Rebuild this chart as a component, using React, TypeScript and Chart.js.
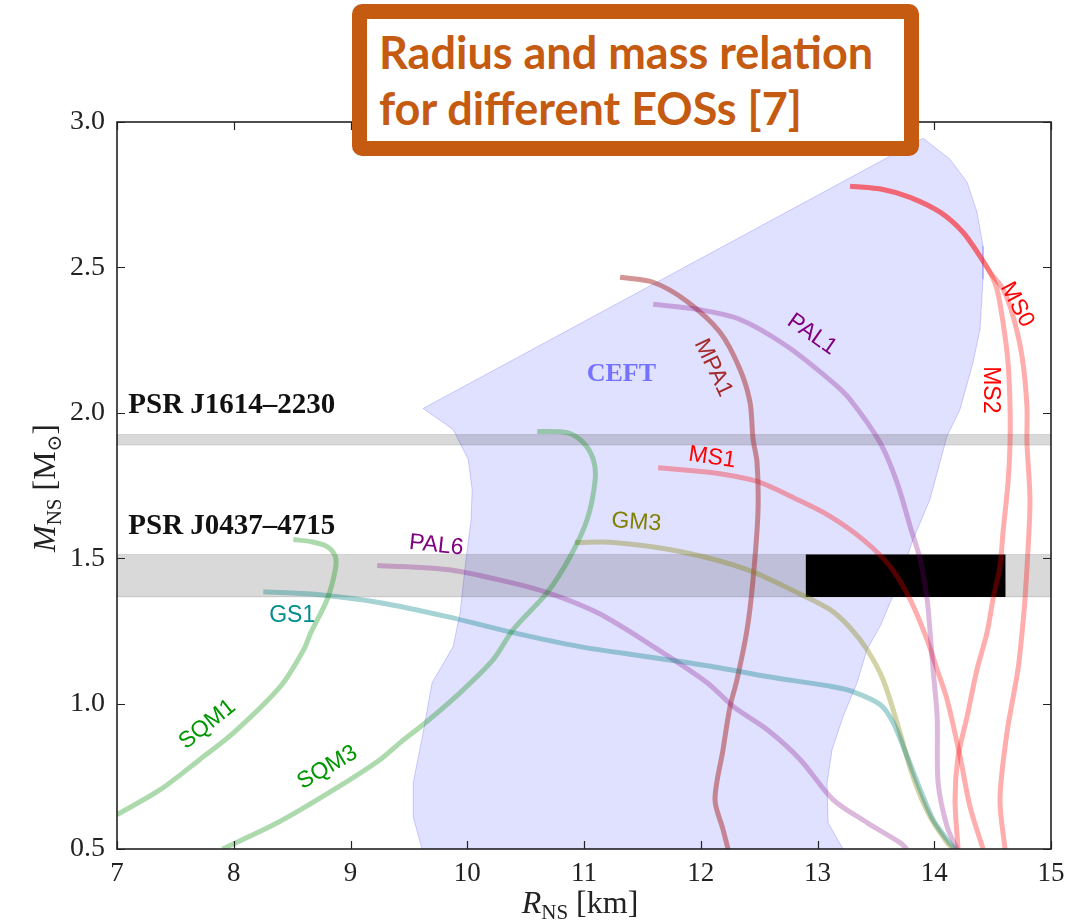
import React, { useEffect, useRef } from 'react';
import { Chart, registerables } from 'chart.js';

Chart.register(...registerables);

// ---------- axis ticks ----------
const xTicks = [7, 8, 9, 10, 11, 12, 13, 14, 15];
const yTicks = [0.5, 1.0, 1.5, 2.0, 2.5, 3.0];

// ---------- CEFT band (closed polygon) ----------
const ceftR = [9.614, 9.597, 9.537, 9.537, 9.622, 9.699, 9.879, 9.939, 9.982, 10.033, 10.042, 10.008, 9.879, 9.622,
  13.905, 14.135, 14.281, 14.366, 14.418, 14.418, 14.392, 14.332, 14.221, 14.109, 13.963, 13.818, 13.681, 13.535,
  13.424, 13.339, 13.219, 13.125, 13.082, 13.091, 13.219, 9.614];
const ceftM = [0.5, 0.522, 0.611, 0.728, 0.9, 1.072, 1.196, 1.313, 1.471, 1.633, 1.736, 1.84, 1.943, 2.015,
  2.944, 2.872, 2.793, 2.69, 2.573, 2.459, 2.287, 2.173, 2.012, 1.919, 1.702, 1.564, 1.403, 1.265,
  1.186, 1.072, 0.955, 0.842, 0.728, 0.59, 0.5, 0.5];

// ---------- pulsar mass bands ----------
const j1614M = [1.889, 1.925];
const j0437M = [1.367, 1.513];
const bandR = [7, 15];
const nicerR = [12.9, 14.61];

// ---------- EOS curves ----------
const sqm1R = [7.0, 7.37, 7.71, 8.0, 8.4, 8.6, 8.66, 8.8, 8.87, 8.87, 8.8, 8.66, 8.51];
const sqm1M = [0.618, 0.704, 0.808, 0.9, 1.059, 1.186, 1.244, 1.358, 1.461, 1.506, 1.54, 1.557, 1.564];

const sqm3R = [7.903, 8.374, 8.854, 9.256, 9.426, 9.623, 9.94, 10.222, 10.394, 10.685, 10.882, 11.027, 11.096, 11.079, 10.993, 10.856, 10.599];
const sqm3M = [0.5, 0.59, 0.703, 0.808, 0.866, 0.928, 1.038, 1.151, 1.255, 1.382, 1.506, 1.633, 1.771, 1.84, 1.898, 1.932, 1.936];

const gs1R = [8.253, 8.715, 9.254, 9.828, 10.393, 10.966, 11.54, 12.105, 12.568, 13.133, 13.304, 13.536, 13.648, 13.768, 13.879, 13.99, 14.11, 14.178];
const gs1M = [1.385, 1.375, 1.347, 1.299, 1.244, 1.196, 1.161, 1.127, 1.093, 1.058, 1.041, 0.997, 0.935, 0.818, 0.705, 0.601, 0.532, 0.5];

const gm3R = [10.924, 11.25, 11.823, 12.397, 12.825, 13.108, 13.279, 13.424, 13.561, 13.681, 13.818, 13.963, 14.11, 14.161];
const gm3M = [1.554, 1.554, 1.523, 1.461, 1.382, 1.323, 1.261, 1.186, 1.083, 0.935, 0.749, 0.612, 0.522, 0.5];

const pal6R = [9.229, 9.828, 10.256, 10.685, 11.113, 11.567, 12.055, 12.278, 12.568, 12.851, 13.133, 13.424, 13.707, 13.767];
const pal6M = [1.475, 1.461, 1.427, 1.382, 1.313, 1.203, 1.072, 0.99, 0.911, 0.808, 0.67, 0.591, 0.522, 0.5];

const pal1R = [11.592, 11.969, 12.337, 12.739, 13.133, 13.279, 13.536, 13.681, 13.793, 13.879, 13.939, 13.965, 13.99, 14.025, 14.033, 14.11, 14.195];
const pal1M = [2.373, 2.356, 2.321, 2.229, 2.104, 2.046, 1.898, 1.761, 1.61, 1.496, 1.358, 1.244, 1.117, 0.955, 0.728, 0.577, 0.5];

const mpa1R = [11.309, 11.592, 11.883, 12.165, 12.336, 12.422, 12.448, 12.482, 12.49, 12.448, 12.397, 12.311, 12.251, 12.191, 12.122, 12.191, 12.234];
const mpa1M = [2.466, 2.449, 2.383, 2.277, 2.15, 2.036, 1.909, 1.83, 1.658, 1.427, 1.255, 1.083, 0.99, 0.842, 0.67, 0.567, 0.5];

const ms1R = [11.635, 12.105, 12.482, 12.825, 13.108, 13.39, 13.622, 13.793, 13.938, 14.024, 14.11, 14.221, 14.306, 14.418];
const ms1M = [1.811, 1.794, 1.764, 1.702, 1.644, 1.564, 1.472, 1.358, 1.22, 1.117, 1.014, 0.818, 0.646, 0.5];

const ms0R = [13.279, 13.561, 13.793, 14.05, 14.246, 14.392, 14.478, 14.589, 14.675, 14.752, 14.794, 14.794, 14.82, 14.803, 14.777, 14.752, 14.717, 14.623, 14.563, 14.606];
const ms0M = [2.779, 2.768, 2.741, 2.69, 2.621, 2.538, 2.483, 2.425, 2.332, 2.194, 2.022, 1.898, 1.702, 1.53, 1.358, 1.244, 1.117, 0.9, 0.67, 0.5];

const ms2R = [13.279, 13.561, 13.793, 14.05, 14.246, 14.392, 14.478, 14.538, 14.589, 14.632, 14.649, 14.649, 14.632, 14.589, 14.563, 14.503, 14.452, 14.366, 14.281, 14.204, 14.178, 14.204];
const ms2M = [2.779, 2.768, 2.741, 2.69, 2.621, 2.538, 2.483, 2.424, 2.311, 2.173, 2.022, 1.898, 1.761, 1.589, 1.472, 1.358, 1.244, 1.117, 0.955, 0.818, 0.67, 0.5];

// ---------- text annotations ----------
const curveLabels = [
  { text: 'CEFT', r: 11.32, m: 2.131, rot: 0, color: 'rgb(115,115,255)', font: 'bold 26px "Liberation Serif", "DejaVu Serif", serif' },
  { text: 'MPA1', r: 12.106, m: 2.155, rot: 64.6, color: 'rgb(165,42,42)', font: '23px "Liberation Sans", Arial, sans-serif' },
  { text: 'PAL1', r: 12.953, m: 2.269, rot: 35, color: 'rgb(128,0,128)', font: '23px "Liberation Sans", Arial, sans-serif' },
  { text: 'MS1', r: 12.097, m: 1.846, rot: 8, color: 'rgb(255,0,0)', font: '23px "Liberation Sans", Arial, sans-serif' },
  { text: 'MS0', r: 14.708, m: 2.372, rot: 62, color: 'rgb(255,0,0)', font: '23px "Liberation Sans", Arial, sans-serif' },
  { text: 'MS2', r: 14.477, m: 2.079, rot: 90, color: 'rgb(255,0,0)', font: '23px "Liberation Sans", Arial, sans-serif' },
  { text: 'GM3', r: 11.448, m: 1.623, rot: 4, color: 'rgb(128,128,0)', font: '23px "Liberation Sans", Arial, sans-serif' },
  { text: 'PAL6', r: 9.734, m: 1.544, rot: 6, color: 'rgb(128,0,128)', font: '23px "Liberation Sans", Arial, sans-serif' },
  { text: 'GS1', r: 8.501, m: 1.302, rot: 0, color: 'rgb(0,140,140)', font: '23px "Liberation Sans", Arial, sans-serif' },
  { text: 'SQM1', r: 7.774, m: 0.928, rot: -38.7, color: 'rgb(0,150,0)', font: '23px "Liberation Sans", Arial, sans-serif' },
  { text: 'SQM3', r: 8.802, m: 0.78, rot: -30.5, color: 'rgb(0,150,0)', font: '23px "Liberation Sans", Arial, sans-serif' },
];

const pulsarLabels = [
  { text: 'PSR J1614\u20132230', r: 7.097, m: 2.001 },
  { text: 'PSR J0437\u20134715', r: 7.097, m: 1.582 },
];

const pts = (r: number[], m: number[]) => r.map((x, i) => ({ x, y: m[i] }));
const rect = (r: number[], m: number[]) => [
  { x: r[0], y: m[0] }, { x: r[1], y: m[0] }, { x: r[1], y: m[1] }, { x: r[0], y: m[1] }, { x: r[0], y: m[0] },
];

const curve = (label: string, r: number[], m: number[], color: string) => ({
  label,
  data: pts(r, m),
  showLine: true,
  borderColor: color,
  backgroundColor: color,
  borderWidth: 5,
  tension: 0.3,
  pointRadius: 0,
  fill: false,
  order: 50,
});

const serif = '"Liberation Serif", "DejaVu Serif", serif';

function drawRich(ctx: CanvasRenderingContext2D, parts: { t: string; f: string; dy: number }[], cx: number, by: number) {
  let total = 0;
  for (const p of parts) { ctx.font = p.f; total += ctx.measureText(p.t).width; }
  let x = cx - total / 2;
  ctx.textAlign = 'left';
  ctx.textBaseline = 'alphabetic';
  for (const p of parts) {
    ctx.font = p.f;
    ctx.fillText(p.t, x, by + p.dy);
    x += ctx.measureText(p.t).width;
  }
}

const decorPlugin = {
  id: 'decor',
  afterDatasetsDraw(chart: any) {
    const ctx: CanvasRenderingContext2D = chart.ctx;
    const xs = chart.scales.x;
    const ys = chart.scales.y;
    const { left, right, top, bottom } = chart.chartArea;

    ctx.save();
    // curve labels
    for (const l of curveLabels) {
      const px = xs.getPixelForValue(l.r);
      const py = ys.getPixelForValue(l.m);
      ctx.save();
      ctx.translate(px, py);
      ctx.rotate((l.rot * Math.PI) / 180);
      ctx.font = l.font;
      ctx.fillStyle = l.color;
      ctx.textAlign = 'center';
      ctx.textBaseline = 'middle';
      ctx.fillText(l.text, 0, 0);
      ctx.restore();
    }
    // pulsar labels
    ctx.font = `bold 29px ${serif}`;
    ctx.fillStyle = '#111';
    ctx.textAlign = 'left';
    ctx.textBaseline = 'alphabetic';
    for (const l of pulsarLabels) {
      ctx.fillText(l.text, xs.getPixelForValue(l.r), ys.getPixelForValue(l.m));
    }

    // frame
    ctx.strokeStyle = '#222';
    ctx.lineWidth = 1.6;
    ctx.strokeRect(left, top, right - left, bottom - top);
    // inward ticks
    ctx.lineWidth = 1.2;
    ctx.beginPath();
    for (const v of xTicks) {
      const px = Math.round(xs.getPixelForValue(v)) + 0.5;
      ctx.moveTo(px, bottom); ctx.lineTo(px, bottom - 8);
      ctx.moveTo(px, top); ctx.lineTo(px, top + 8);
    }
    for (const v of yTicks) {
      const py = Math.round(ys.getPixelForValue(v)) + 0.5;
      ctx.moveTo(left, py); ctx.lineTo(left + 8, py);
      ctx.moveTo(right, py); ctx.lineTo(right - 8, py);
    }
    ctx.stroke();

    // axis titles
    ctx.fillStyle = '#222';
    drawRich(ctx, [
      { t: 'R', f: `italic 32px ${serif}`, dy: 0 },
      { t: 'NS', f: `21px ${serif}`, dy: 6 },
      { t: ' [km]', f: `32px ${serif}`, dy: 0 },
    ], 580, 913);

    ctx.save();
    ctx.translate(55, 488);
    ctx.rotate(-Math.PI / 2);
    drawRich(ctx, [
      { t: 'M', f: `italic 32px ${serif}`, dy: 0 },
      { t: 'NS', f: `21px ${serif}`, dy: 6 },
      { t: ' [M', f: `32px ${serif}`, dy: 0 },
      { t: '\u2299', f: `20px "DejaVu Serif", serif`, dy: 6 },
      { t: ']', f: `32px ${serif}`, dy: 0 },
    ], 0, 0);
    ctx.restore();

    ctx.restore();
  },
};

export default function App() {
  const ref = useRef<HTMLCanvasElement>(null);

  useEffect(() => {
    const canvas = ref.current;
    if (!canvas) return;
    const datasets: any[] = [
      {
        label: 'CEFT',
        data: pts(ceftR, ceftM),
        showLine: true,
        borderColor: 'rgba(0,0,255,0.18)',
        backgroundColor: 'rgba(0,0,255,0.12)',
        borderWidth: 1,
        tension: 0,
        pointRadius: 0,
        fill: 'shape',
        order: 100,
      },
      {
        label: 'PSR J1614-2230',
        data: rect(bandR, j1614M),
        showLine: true,
        borderColor: 'rgba(0,0,0,0.12)',
        backgroundColor: 'rgba(0,0,0,0.15)',
        borderWidth: 1,
        tension: 0,
        pointRadius: 0,
        fill: 'shape',
        order: 90,
      },
      {
        label: 'PSR J0437-4715',
        data: rect(bandR, j0437M),
        showLine: true,
        borderColor: 'rgba(0,0,0,0.12)',
        backgroundColor: 'rgba(0,0,0,0.15)',
        borderWidth: 1,
        tension: 0,
        pointRadius: 0,
        fill: 'shape',
        order: 89,
      },
      {
        label: 'NICER',
        data: rect(nicerR, j0437M),
        showLine: true,
        borderColor: 'rgba(0,0,0,0)',
        backgroundColor: 'rgba(0,0,0,1)',
        borderWidth: 0,
        tension: 0,
        pointRadius: 0,
        fill: 'shape',
        order: 80,
      },
      curve('SQM1', sqm1R, sqm1M, 'rgba(0,140,0,0.32)'),
      curve('SQM3', sqm3R, sqm3M, 'rgba(0,140,0,0.32)'),
      curve('GS1', gs1R, gs1M, 'rgba(0,128,128,0.35)'),
      curve('GM3', gm3R, gm3M, 'rgba(128,128,0,0.35)'),
      curve('PAL6', pal6R, pal6M, 'rgba(128,0,128,0.28)'),
      curve('PAL1', pal1R, pal1M, 'rgba(128,0,128,0.28)'),
      curve('MPA1', mpa1R, mpa1M, 'rgba(165,42,42,0.5)'),
      curve('MS1', ms1R, ms1M, 'rgba(255,0,0,0.32)'),
      curve('MS0', ms0R, ms0M, 'rgba(255,0,0,0.32)'),
      curve('MS2', ms2R, ms2M, 'rgba(255,0,0,0.32)'),
    ];

    const chart = new Chart(canvas, {
      type: 'scatter',
      data: { datasets },
      plugins: [decorPlugin],
      options: {
        responsive: false,
        animation: false,
        events: [],
        layout: { padding: { left: 0, top: 122, right: 25, bottom: 0 } },
        plugins: {
          legend: { display: false },
          tooltip: { enabled: false },
          title: { display: false },
        },
        elements: { point: { radius: 0 }, line: { borderCapStyle: 'butt', borderJoinStyle: 'round' } },
        scales: {
          x: {
            type: 'linear',
            min: 7,
            max: 15,
            afterFit: (s: any) => { s.height = 74; },
            afterBuildTicks: (s: any) => { s.ticks = xTicks.map((v) => ({ value: v })); },
            grid: { display: false, drawTicks: false },
            border: { display: false },
            ticks: {
              font: { family: serif, size: 27 },
              color: '#222',
              padding: 9,
              maxRotation: 0,
              autoSkip: false,
              callback: (v: any) => String(v),
            },
          },
          y: {
            type: 'linear',
            min: 0.5,
            max: 3.0,
            afterFit: (s: any) => { s.width = 117; },
            afterBuildTicks: (s: any) => { s.ticks = yTicks.map((v) => ({ value: v })); },
            grid: { display: false, drawTicks: false },
            border: { display: false },
            ticks: {
              font: { family: serif, size: 28 },
              color: '#222',
              padding: 12,
              autoSkip: false,
              callback: (v: any) => Number(v).toFixed(1),
            },
          },
        },
      } as any,
    });
    return () => chart.destroy();
  }, []);

  return (
    <div style={{ position: 'absolute', left: 0, top: 0, width: 1076, height: 923, background: '#fff', overflow: 'hidden' }}>
      <canvas ref={ref} width={1076} height={923} style={{ display: 'block' }} />
      <div
        style={{
          position: 'absolute',
          left: 352,
          top: 4,
          width: 567,
          height: 152,
          boxSizing: 'border-box',
          border: '15px solid #C55A11',
          borderRadius: 10,
          background: '#fff',
          color: '#C55A11',
          fontFamily: 'Lato, "Open Sans", sans-serif',
          fontWeight: 700,
          fontSize: 45,
          lineHeight: '56px',
          padding: '5px 0 0 12px',
          whiteSpace: 'nowrap',
        }}
      >
        Radius and mass relation
        <br />
        for different EOSs [7]
      </div>
    </div>
  );
}
